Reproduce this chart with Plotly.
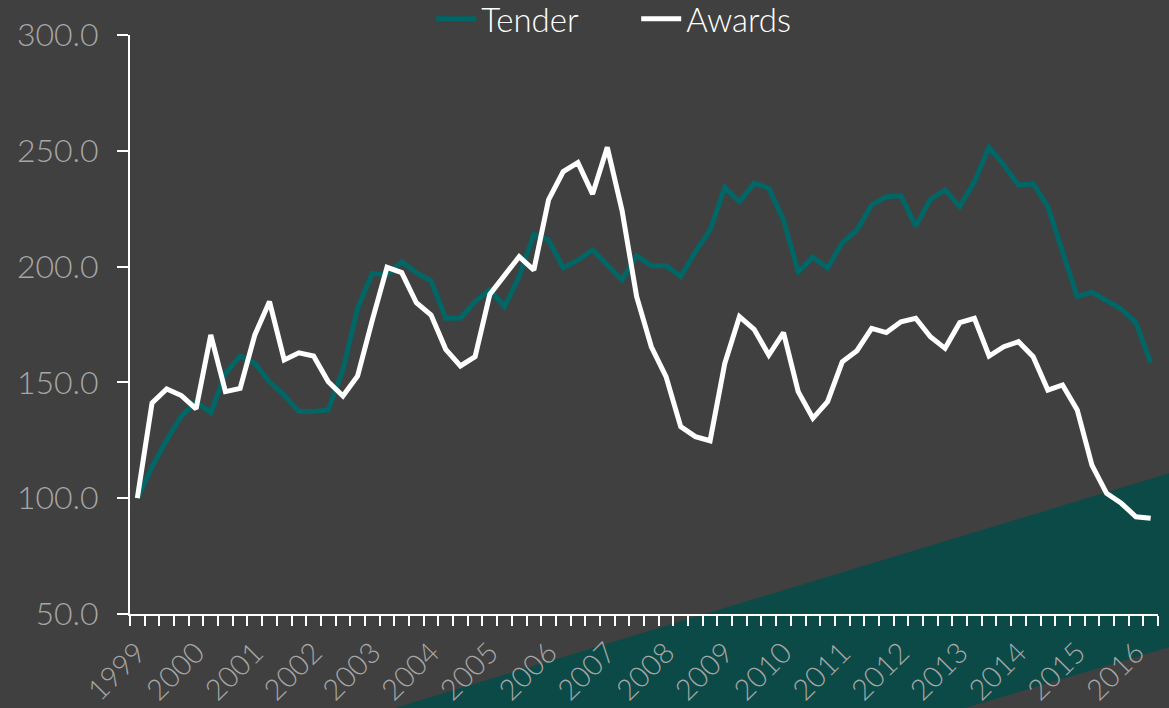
import plotly.graph_objects as go

years = list(range(1999, 2017))
quarters = [(y, q) for y in years for q in (1, 2, 3, 4)][:70]  # 1999Q1 .. 2016Q2

tender = [
    100.0, 113.6, 125.1, 135.5, 141.5, 136.9, 153.9, 161.4, 158.2, 150.3,
    144.5, 137.4, 137.4, 138.1, 155.4, 182.0, 197.1, 196.4, 202.1, 197.4,
    193.9, 177.7, 177.7, 184.9, 190.0, 182.7, 195.7, 213.9, 211.5, 199.5,
    202.8, 207.2, 200.7, 194.2, 204.7, 200.4, 200.4, 195.7, 206.4, 215.8,
    234.2, 228.0, 236.0, 233.8, 220.1, 197.8, 204.0, 199.5, 210.3, 215.8,
    226.6, 230.2, 230.6, 217.5, 229.0, 233.1, 225.9, 236.7, 251.5, 243.9,
    235.2, 235.7, 225.9, 206.4, 187.0, 188.9, 185.6, 181.7, 175.8, 158.5,
]
awards = [
    100.0, 141.1, 147.2, 144.3, 138.6, 170.5, 146.0, 147.4, 170.5, 184.9,
    159.7, 162.8, 161.4, 150.3, 144.1, 152.8, 176.9, 199.7, 197.4, 184.4,
    179.1, 164.3, 157.1, 161.1, 188.0, 196.4, 204.3, 198.5, 228.8, 241.0,
    244.9, 231.3, 251.5, 224.4, 187.0, 165.4, 152.5, 130.9, 126.6, 124.8,
    158.2, 178.4, 172.9, 161.8, 171.5, 146.0, 134.5, 141.7, 158.9, 163.7,
    173.3, 171.5, 176.2, 177.7, 169.7, 164.7, 175.8, 177.7, 161.4, 165.4,
    167.6, 161.1, 146.7, 148.9, 138.1, 114.3, 102.1, 97.8, 92.0, 91.3,
]
series_names = ["Tender", "Awards"]
year_labels = [str(y) for y in years]

# quarter position as decimal year (category centre)
x = [y + (q - 1) / 4 for (y, q) in quarters]
boundaries = [1999 - 0.125 + 0.25 * k for k in range(len(x) + 1)]

BG = "#404040"
TEAL = "#006666"
BAND = "#0c4a47"
LABEL = "#a6a6a6"
FONT = "Lato, 'Noto Sans', sans-serif"

fig = go.Figure()
fig.add_trace(go.Scatter(x=x, y=tender, name=series_names[0], mode="lines",
                         line=dict(color=TEAL, width=5)))
fig.add_trace(go.Scatter(x=x, y=awards, name=series_names[1], mode="lines",
                         line=dict(color="white", width=5)))

W, H = 1169, 708
ml, mr, mt, mb = 130, 11, 35, 94
pw, ph = W - ml - mr, H - mt - mb


def px(xp, yp):
    return (xp - ml) / pw, (H - mb - yp) / ph


band_pts = [px(385, 711), px(1180, 470), px(1180, 644), px(955, 711)]
path = "M " + " L ".join(f"{a:.4f},{b:.4f}" for a, b in band_pts) + " Z"

fig.update_layout(
    width=W, height=H,
    margin=dict(l=ml, r=mr, t=mt, b=mb, autoexpand=False),
    paper_bgcolor=BG, plot_bgcolor="rgba(0,0,0,0)",
    font=dict(family=FONT, color=LABEL),
    showlegend=True,
    legend=dict(orientation="h", x=0.293, xanchor="left", y=1.028, yanchor="middle",
                font=dict(size=33, color="white", family=FONT, weight=300),
                bgcolor="rgba(0,0,0,0)", itemwidth=40, tracegroupgap=0,
                entrywidth=150),
    shapes=[dict(type="path", path=path, xref="paper", yref="paper",
                 fillcolor=BAND, line=dict(width=0), layer="below")],
    xaxis=dict(
        range=[boundaries[0], boundaries[-1]],
        tickmode="array", tickvals=years, ticktext=year_labels,
        ticks="", tickangle=-45,
        tickfont=dict(size=29, color=LABEL, family=FONT, weight=300),
        ticklabelstandoff=8,
        showgrid=False, zeroline=False,
        showline=True, linecolor="white", linewidth=2,
        minor=dict(tickmode="array", tickvals=boundaries, ticks="outside",
                   ticklen=10, tickwidth=2, tickcolor="white", showgrid=False),
    ),
    yaxis=dict(
        range=[50, 300], tickmode="linear", tick0=50, dtick=50,
        tickformat=".1f", ticks="outside", ticklen=11, tickwidth=2,
        tickcolor="white",
        tickfont=dict(size=32, color=LABEL, family=FONT, weight=300),
        ticklabelstandoff=12,
        showgrid=False, zeroline=False,
        showline=True, linecolor="white", linewidth=2,
    ),
)

fig.write_html("out.html", config={"displayModeBar": False},
               post_script="document.body.style.margin='0';document.body.style.overflow='hidden';")
